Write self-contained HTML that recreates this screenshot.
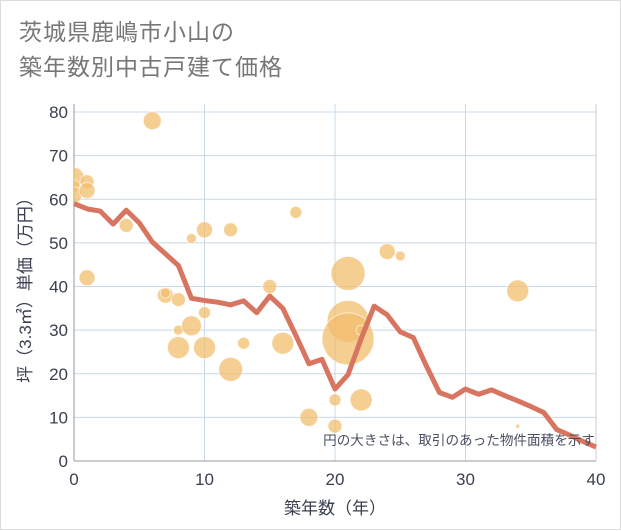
<!DOCTYPE html>
<html><head><meta charset="utf-8"><style>
body{margin:0;background:#fff;}
.wrap{position:relative;width:621px;height:530px;box-sizing:border-box;border:1px solid #ddd;background:#fff;font-family:"Liberation Sans","Noto Sans CJK JP",sans-serif;}
.title{position:absolute;left:18px;top:14px;font-size:23px;line-height:35px;color:#777;letter-spacing:1px;}
svg{position:absolute;left:0;top:0;}
</style></head><body>
<div class="wrap">
<div class="title">茨城県鹿嶋市小山の<br>築年数別中古戸建て価格</div>
<svg id="c" width="621" height="530"><defs><clipPath id="pc"><rect x="73" y="100" width="522" height="360"/></clipPath></defs></svg>
</div>
<script>
const xTicks=[0,10,20,30,40];
const yTicks=[0,10,20,30,40,50,60,70,80];
const lineYears=[0,1,2,3,4,5,6,7,8,9,10,11,12,13,14,15,16,17,18,19,20,21,22,23,24,25,26,27,28,29,30,31,32,33,34,35,36,37,38,39,40];
const lineValues=[59,57.8,57.3,54.3,57.5,54.6,50.2,47.5,44.8,37.3,36.8,36.4,35.8,36.7,34,37.8,35,28.8,22.3,23.3,16.5,19.8,28,35.5,33.5,29.6,28.3,21.8,15.7,14.6,16.5,15.3,16.3,15,13.8,12.5,11.1,7.2,5.9,4.5,3.2];
const bubbleX=[0,0,0,1,1,1,4,6,7,7,8,8,8,9,9,10,10,10,12,12,13,15,16,17,18,20,20,21,21,21,22,22,24,25,34,34];
const bubbleY=[65,63,61,64,62,42,54,78,38,38.5,37,30,26,31,51,53,34,26,53,21,27,40,27,57,10,14,8,43,32,28,30,14,48,47,39,8];
const bubbleR=[10,6,8,7,8,8,7,9,8,5,7,5,11,10,5,8,6,11,7,12,6,7,11,6,9,6,7,17,21,26,5,11,8,5,11,2];
const svg=document.getElementById('c');const NS='http://www.w3.org/2000/svg';
const X0=73,X1=595,Y0=460,Y1=111;
const sx=v=>X0+(X1-X0)*v/40, sy=v=>Y0-(Y0-Y1)*v/80;
function el(t,a,p){const e=document.createElementNS(NS,t);for(const k in a)e.setAttribute(k,a[k]);(p||svg).appendChild(e);return e;}
const grid=el('g',{});
yTicks.forEach(v=>{el('line',{x1:X0,x2:X1,y1:sy(v),y2:sy(v),stroke:'#c8d8e8','stroke-width':1},grid);
const t=el('text',{x:X0-6,y:sy(v)+6,'text-anchor':'end','font-size':17,fill:'#3a4050'});t.textContent=v;
});
xTicks.forEach(v=>{el('line',{x1:sx(v),x2:sx(v),y1:Y1-8,y2:Y0,stroke:'#c8d8e8','stroke-width':1},grid);
const t=el('text',{x:sx(v),y:Y0+24,'text-anchor':'middle','font-size':17,fill:'#3a4050'});t.textContent=v;
});
el('line',{x1:X0,x2:X0,y1:Y1-8,y2:Y0,stroke:'#999'});el('line',{x1:X0,x2:X1,y1:Y0,y2:Y0,stroke:'#999'});
el('line',{x1:X1,x2:X1,y1:Y1-8,y2:Y0,stroke:'#ccc'});
const bg=el('g',{'clip-path':'url(#pc)'});
bubbleX.forEach((x,i)=>{const c=el('circle',{cx:sx(x),cy:sy(bubbleY[i]),r:bubbleR[i],fill:'rgba(242,190,110,0.75)',stroke:'rgba(255,255,255,0.6)','stroke-width':1},bg);
});
const pl=el('polyline',{points:lineYears.map((x,i)=>sx(x)+','+sy(lineValues[i])).join(' '),fill:'none',stroke:'#d87560','stroke-width':5,'stroke-linejoin':'round'});

const note=el('text',{x:594,y:444,'text-anchor':'end','font-size':13.6,fill:'#4a5060'});note.textContent='円の大きさは、取引のあった物件面積を示す';

const xt=el('text',{x:334,y:513,'text-anchor':'middle','font-size':17,fill:'#3a4050'});xt.textContent='築年数（年）';

const yt=el('text',{x:0,y:0,'text-anchor':'middle','font-size':17,fill:'#3a4050',transform:'translate(30,285) rotate(-90)'});yt.textContent='坪（3.3㎡）単価（万円）';

</script>
</body></html>
